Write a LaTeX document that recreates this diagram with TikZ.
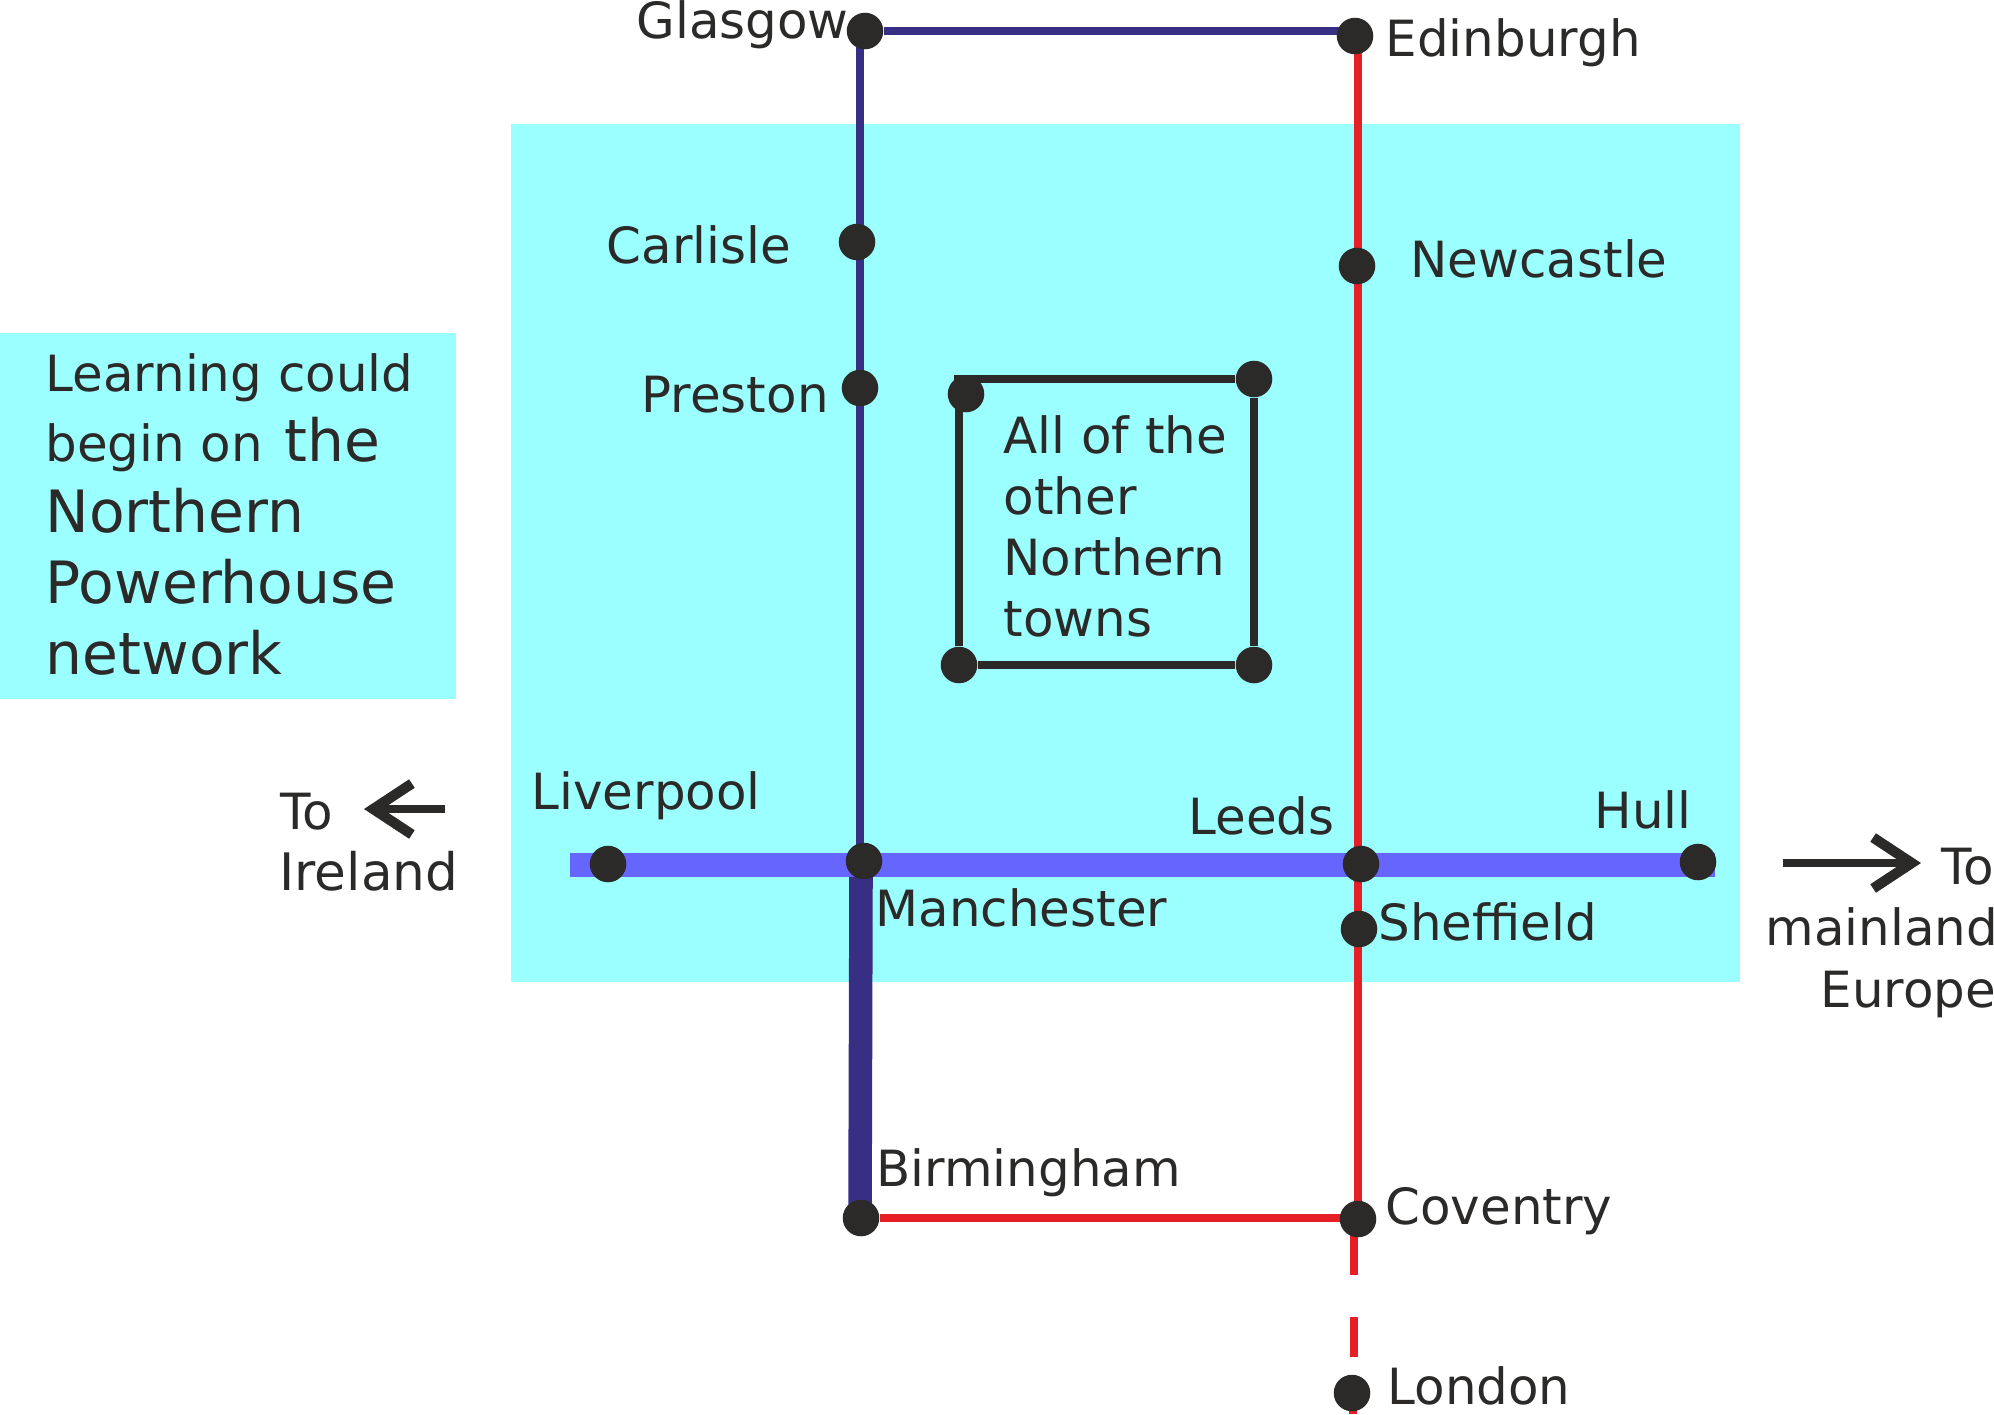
\documentclass[tikz,border=0pt]{standalone}
\usepackage{fontspec}
\setmainfont{DejaVu Sans}
\usetikzlibrary{arrows.meta,backgrounds,calc}
\definecolor{zonecyan}{HTML}{9CFFFF}
\definecolor{westnavy}{HTML}{382F85}
\definecolor{eastred}{HTML}{E61E26}
\definecolor{crosspurple}{HTML}{6666FF}
\definecolor{inkdark}{HTML}{2B2A29}
\tikzset{
  stop/.style={
    circle,
    fill=inkdark,
    inner sep=0pt,
    minimum size=20.8pt
  },
  town/.style={
    anchor=base west,
    inner sep=0pt,
    xshift=-1pt,
    text=inkdark,
    font=\fontsize{28.4}{34.6}\selectfont
  },
  bigtown/.style={
    town,
    font=\fontsize{33.2}{40}\selectfont
  },
  zone/.style={
    fill=zonecyan
  },
  navyline/.style={
    westnavy,
    line width=4.8pt
  },
  navythick/.style={
    westnavy,
    line width=13.4pt
  },
  redline/.style={
    eastred,
    line width=4.8pt
  },
  crossline/.style={
    crosspurple,
    line width=13.6pt
  },
  boxline/.style={
    inkdark,
    line width=4.8pt
  },
  outarrow/.style={
    inkdark,
    line width=4.6pt,
    -{Straight Barb[length=22pt,width=29pt,line width=5.8pt]}
  }
}
\begin{document}
\begin{tikzpicture}[x=0.02cm,y=-0.02cm]
    \useasboundingbox (0,0) rectangle (1994,1414);
    % stops
    \node[stop] (glasgow) at (865,31) {};
    \node[stop] (edinburgh) at (1355,36) {};
    \node[stop] (carlisle) at (857,242) {};
    \node[stop] (newcastle) at (1357,266) {};
    \node[stop] (preston) at (860,388) {};
    \node[stop] (liverpool) at (608,864) {};
    \node[stop] (manchester) at (864,861) {};
    \node[stop] (leeds) at (1361,864) {};
    \node[stop] (hull) at (1698,862) {};
    \node[stop] (sheffield) at (1359,929) {};
    \node[stop] (birmingham) at (861,1218) {};
    \node[stop] (coventry) at (1358,1219) {};
    \node[stop] (london) at (1352,1393) {};
    % other towns
    \node[stop] (boxTL) at (966,394) {};
    \node[stop] (boxTR) at (1254,379) {};
    \node[stop] (boxBL) at (959,665) {};
    \node[stop] (boxBR) at (1254,665) {};
    % free ends
    \coordinate (londonend) at (1353,1414);
    \coordinate (crossW) at (570,865);
    \coordinate (crossE) at (1715,865);
    \coordinate (irelandtail) at (445,809);
    \coordinate (irelandtip) at (364,809);
    \coordinate (europetail) at (1783,863);
    \coordinate (europetip) at (1921,863);
    \begin{scope}[on background layer]
        \fill[zone] (511,124) rectangle (1740,982);
        \fill[zone] (0,333) rectangle (456,699);
        \draw[navyline] ($(glasgow)+(-5,0)$) -- ($(manchester)+(-4,4)$);
        \draw[navyline] (glasgow) -- ($(edinburgh)+(0,-5)$);
        \draw[redline] ($(edinburgh)+(3,0)$) -- ($(coventry)+(0,0)$);
        \draw[redline] (birmingham) -- ($(coventry)+(0,-1)$);
        \draw[redline,dash pattern=on 31.7pt off 23.8pt on 23.2pt off 40pt] ($(coventry)+(-4,0)$) -- ($(london)+(2,0)$);
        \draw[redline] ($(london)+(1,0)$) -- (londonend);
        \draw[crossline] (crossW) -- (crossE);
        \draw[navythick] ($(manchester)+(-3,16)$) -- ($(birmingham)+(-1,0)$);
        \draw[boxline] ($(boxTL)+(-12,-15)$) -- (boxTR);
        \draw[boxline] (boxTR) -- (boxBR);
        \draw[boxline] (boxBR) -- (boxBL);
        \draw[boxline] (boxBL) -- ($(boxTL)+(-7,-15)$);
    \end{scope}
    \draw[outarrow] (irelandtail) -- (irelandtip);
    \draw[outarrow] (europetail) -- (europetip);
    % names
    \node[town] (lglasgow) at (638,38) {Glasgow};
    \node[town] (ledinburgh) at (1387,56) {Edinburgh};
    \node[town] (lcarlisle) at (608,263) {Carlisle};
    \node[town] (lnewcastle) at (1412,277) {Newcastle};
    \node[town] (lpreston) at (643,412) {Preston};
    \node[town] (lliverpool) at (533,809) {Liverpool};
    \node[town] (lmanchester) at (877,926) {Manchester};
    \node[town] (lleeds) at (1190,834) {Leeds};
    \node[town] (lhull) at (1596,828) {Hull};
    \node[town] (lsheffield) at (1380,940) {Sheffield};
    \node[town] (lbirmingham) at (878,1186) {Birmingham};
    \node[town] (lcoventry) at (1387,1224) {Coventry};
    \node[town] (llondon) at (1389,1404) {London};
    \node[town] (lirelandA) at (282,829) {To};
    \node[town,font=\fontsize{29.4}{34.6}\selectfont] (lirelandB) at (281,890) {Ireland};
    \node[town] (leuropeA) at (1943,884) {To};
    \node[town] (leuropeB) at (1767,945) {mainland};
    \node[town] (leuropeC) at (1822,1007) {Europe};
    \node[town] (lothersA) at (1005,453) {All of the};
    \node[town] (lothersB) at (1005,514) {other};
    \node[town] (lothersC) at (1005,575) {Northern};
    \node[town] (lothersD) at (1005,636) {towns};
    % left note
    \node[town] (noteA) at (47,391) {Learning could};
    \node[town] (noteB) at (47,461) {begin on\hspace{3pt} \fontsize{33.2}{40}\selectfont the};
    \node[bigtown] (noteC) at (47,532) {Northern};
    \node[bigtown] (noteD) at (47,603) {Powerhouse};
    \node[bigtown] (noteE) at (47,674) {network};
\end{tikzpicture}
\end{document}
